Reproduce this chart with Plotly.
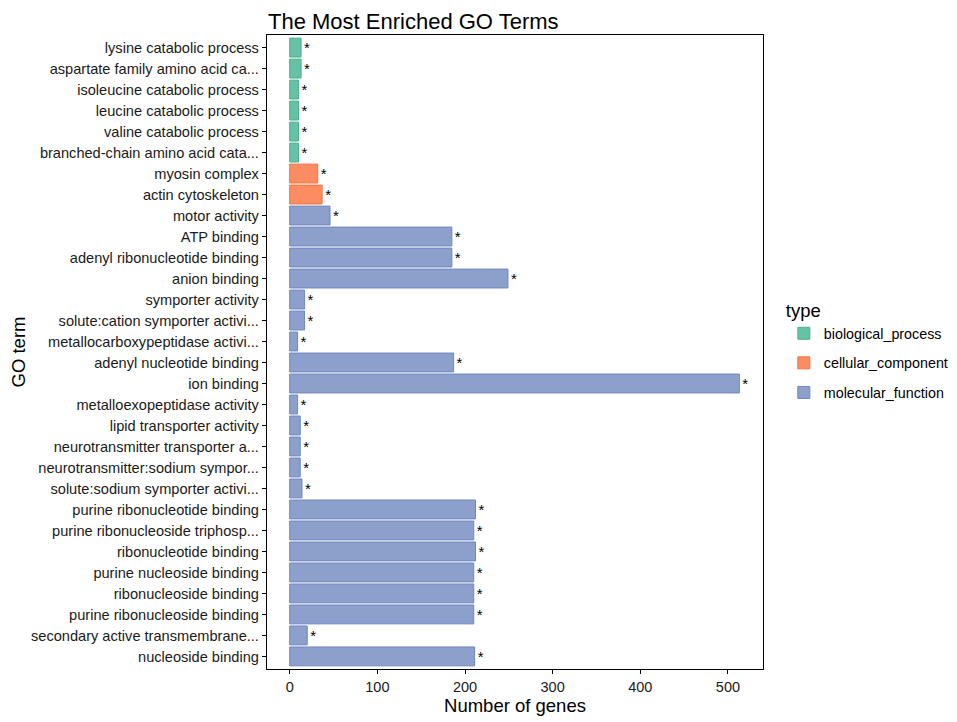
import plotly.graph_objects as go

terms = [
    "lysine catabolic process",
    "aspartate family amino acid ca...",
    "isoleucine catabolic process",
    "leucine catabolic process",
    "valine catabolic process",
    "branched-chain amino acid cata...",
    "myosin complex",
    "actin cytoskeleton",
    "motor activity",
    "ATP binding",
    "adenyl ribonucleotide binding",
    "anion binding",
    "symporter activity",
    "solute:cation symporter activi...",
    "metallocarboxypeptidase activi...",
    "adenyl nucleotide binding",
    "ion binding",
    "metalloexopeptidase activity",
    "lipid transporter activity",
    "neurotransmitter transporter a...",
    "neurotransmitter:sodium sympor...",
    "solute:sodium symporter activi...",
    "purine ribonucleotide binding",
    "purine ribonucleoside triphosp...",
    "ribonucleotide binding",
    "purine nucleoside binding",
    "ribonucleoside binding",
    "purine ribonucleoside binding",
    "secondary active transmembrane...",
    "nucleoside binding",
]
counts = [13, 13, 10, 10, 10, 10, 32, 37, 46, 185, 185, 249, 17, 17, 9, 187, 513,
          9, 12, 12, 12, 14, 212, 210, 212, 210, 210, 210, 20, 211]
types = (["biological_process"] * 6 + ["cellular_component"] * 2 + ["molecular_function"] * 22)
significance = ["*"] * 30

type_order = ["biological_process", "cellular_component", "molecular_function"]
fill_colors = {"biological_process": "#66C2A5", "cellular_component": "#FC8D62",
               "molecular_function": "#8DA0CB"}
edge_colors = {"biological_process": "#4FAF8F", "cellular_component": "#F2733F",
               "molecular_function": "#6F86BF"}

fig = go.Figure()
for t in type_order:
    idx = [i for i, tt in enumerate(types) if tt == t]
    fig.add_trace(go.Bar(
        y=[terms[i] for i in idx],
        x=[counts[i] for i in idx],
        text=[significance[i] for i in idx],
        orientation="h",
        name=t,
        legendgroup=t,
        width=0.9,
        marker=dict(color=fill_colors[t], line=dict(color=edge_colors[t], width=1)),
        textposition="outside",
        textfont=dict(size=15, color="black", family="Liberation Sans"),
        cliponaxis=False,
    ))

fig.update_layout(
    width=957, height=722,
    barmode="relative",
    plot_bgcolor="white", paper_bgcolor="white",
    font=dict(family="Liberation Sans, Arial, sans-serif", color="black"),
    margin=dict(l=259, r=202, t=27, b=61, autoexpand=False),
    title=dict(text="The Most Enriched GO Terms", x=260 / 957, xanchor="left",
               y=1 - 13 / 722, yanchor="middle", font=dict(size=22, color="black")),
    legend=dict(title=dict(text="type", font=dict(size=18.5)), x=1.042, xanchor="left",
                y=0.5924, yanchor="top", font=dict(size=14.3), tracegroupgap=8,
                itemwidth=30),
)
fig.update_xaxes(
    range=[-25.9, 540], tickvals=[0, 100, 200, 300, 400, 500],
    showgrid=False, zeroline=False, automargin=False,
    showline=True, linecolor="black", linewidth=1.3, mirror=True,
    ticks="outside", ticklen=4, tickcolor="black",
    tickfont=dict(size=14.5, color="#1a1a1a"),
    title=dict(text="Number of genes", font=dict(size=18.5), standoff=4),
)
fig.update_yaxes(
    categoryorder="array", categoryarray=terms, autorange=False,
    range=[29.6, -0.6],
    showgrid=False, zeroline=False, automargin=False,
    showline=True, linecolor="black", linewidth=1.3, mirror=True,
    ticks="outside", ticklen=4, tickcolor="black",
    tickfont=dict(size=14.6, color="#1a1a1a"),
    title=dict(text="GO term", font=dict(size=18.5), standoff=7),
)

fig.write_html("out.html")
